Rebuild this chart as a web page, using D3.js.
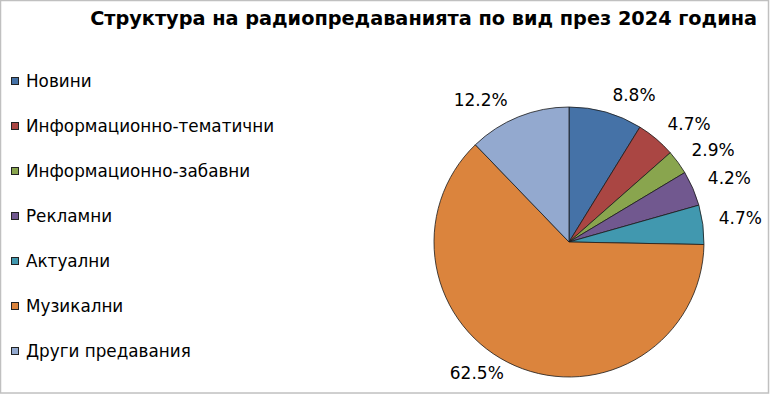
<!DOCTYPE html>
<html>
<head>
<meta charset="utf-8">
<script src="https://cdn.jsdelivr.net/npm/d3@7"></script>
<style>
  body { margin: 0; background: #fff; }
  svg text { font-family: "DejaVu Sans", Verdana, sans-serif; fill: #000; }
</style>
</head>
<body>
<div id="chart"></div>
<script>
const title = "Структура на радиопредаванията по вид през 2024 година";
const categories = ["Новини", "Информационно-тематични", "Информационно-забавни", "Рекламни", "Актуални", "Музикални", "Други предавания"];
const shares = [8.8, 4.7, 2.9, 4.2, 4.7, 62.5, 12.2];
const colors = ["#4572a7", "#aa4643", "#89a54e", "#71588f", "#4198af", "#db843d", "#93a9cf"];

const width = 770, height = 395;
const cx = 569, cy = 242, radius = 135;

const svg = d3.select("#chart").append("svg")
    .attr("width", width)
    .attr("height", height);

// frame
svg.append("rect")
    .attr("x", 0.5).attr("y", 0.5)
    .attr("width", 768).attr("height", 392.5)
    .attr("fill", "#fff")
    .attr("stroke", "#c0c0c0")
    .attr("stroke-width", 1.5);

// title, right aligned
svg.append("text")
    .attr("x", 757)
    .attr("y", 25)
    .attr("text-anchor", "end")
    .style("font-size", "19.3px")
    .style("font-weight", "bold")
    .text(title);

// legend
const legend = svg.append("g").selectAll("g")
    .data(categories)
    .join("g")
    .attr("transform", (d, i) => `translate(11, ${81 + i * 45})`);

legend.append("rect")
    .attr("x", 0.5).attr("y", -3.5)
    .attr("width", 7).attr("height", 7)
    .attr("fill", (d, i) => colors[i])
    .attr("stroke", "#222")
    .attr("stroke-width", 1);

legend.append("text")
    .attr("x", 15)
    .attr("y", 0)
    .attr("dy", "0.36em")
    .style("font-size", "16.8px")
    .text(d => d);

// pie
const pie = d3.pie().sort(null).value(d => d)(shares);
const arc = d3.arc().innerRadius(0).outerRadius(radius);

const g = svg.append("g").attr("transform", `translate(${cx},${cy})`);

g.selectAll("path")
    .data(pie)
    .join("path")
    .attr("d", arc)
    .attr("fill", (d, i) => colors[i])
    .attr("stroke", "#1a1a1a")
    .attr("stroke-width", 0.8)
    .attr("stroke-linejoin", "round");

// labels outside
const labelR = radius + 13;
g.selectAll("text.lbl")
    .data(pie)
    .join("text")
    .attr("class", "lbl")
    .each(function(d) {
        const a = (d.startAngle + d.endAngle) / 2;
        const s = Math.sin(a), c = Math.cos(a);
        const x = labelR * s, y = -labelR * c;
        d3.select(this)
            .attr("x", s >= 0 ? x + 3 : x - 6)
            .attr("y", y - 5)
            .attr("text-anchor", s >= 0 ? "start" : "end");
    })
    .attr("dy", "0.36em")
    .style("font-size", "17px")
    .text(d => d.data.toFixed(1) + "%");
</script>
</body>
</html>
